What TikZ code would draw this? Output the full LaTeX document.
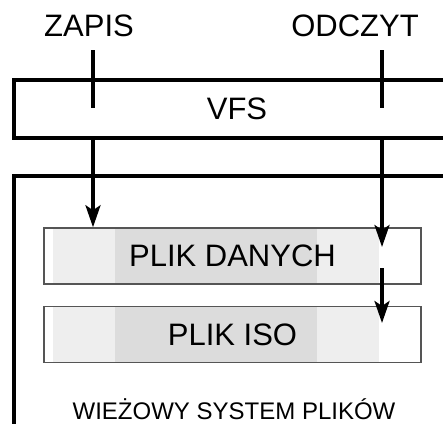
\documentclass[tikz,border=0pt]{standalone}
\usepackage{fontspec}
\setmainfont{Liberation Sans}
\usetikzlibrary{positioning,arrows.meta}
\definecolor{jasny}{HTML}{EEEEEE}
\definecolor{ciemny}{HTML}{DCDCDC}
\definecolor{ramka}{HTML}{555555}
\tikzstyle{napis} = [font=\fontsize{31}{31}\selectfont, inner sep=0pt]
\tikzstyle{warstwa} = [rectangle, minimum width=446pt, minimum height=58pt, draw=black, line width=3.3pt, font=\fontsize{31}{31}\selectfont]
\tikzstyle{plik} = [rectangle, minimum width=377pt, minimum height=56pt, draw=ramka, line width=1.5pt, text centered, font=\fontsize{31}{31}\selectfont]
\tikzstyle{linia} = [line width=3.3pt]
\tikzstyle{strzalka} = [line width=3.3pt,-{Stealth[length=22pt,width=15pt,inset=5pt]}]

\begin{document}
\begin{tikzpicture}[x=1pt,y=-1pt]
	\path[use as bounding box] (0,0) rectangle (443,423);
	\clip (0,0) rectangle (443,423);
	% opisy operacji
	\node (zapis) [napis] at (89,26) {ZAPIS};
	\node (odczyt) [napis] at (355,26) {ODCZYT};
	% warstwa VFS i system plikow
	\node (vfs) [warstwa] at (237,109) {VFS};
	\draw [linia] (14,440) -- (14,176) -- (460,176);
	% pasy w tle plikow
	\foreach \y in {228,306.5} {
		\fill [jasny] (53,\y) rectangle (379,\y+56);
		\fill [ciemny] (115,\y) rectangle (317,\y+56);
	}
	\node (dane) [plik] at (232.5,256) {PLIK DANYCH};
	\node (iso) [plik] at (232.5,334.5) {PLIK ISO};
	\node (wsp) [font=\fontsize{24}{24}\selectfont] at (234,409) {WIEŻOWY SYSTEM PLIKÓW};
	
	\coordinate (z1) at (93,50);
	\coordinate (z2) at (93,108);
	\coordinate (o1) at (382,50);
	\coordinate (o2) at (382,108);
	\coordinate (o3) at (382,247);
	\coordinate (o4) at (382,268);
	\coordinate (o5) at (382,323);
	
	\draw [linia] (z1) -- (z2);
	\draw [linia] (o1) -- (o2);
	\draw [strzalka] (z1 |- vfs.south) -- (z1 |- dane.north);
	\draw [strzalka] (o1 |- vfs.south) -- (o3);
	\draw [strzalka] (o4) -- (o5);
\end{tikzpicture}
\end{document}
